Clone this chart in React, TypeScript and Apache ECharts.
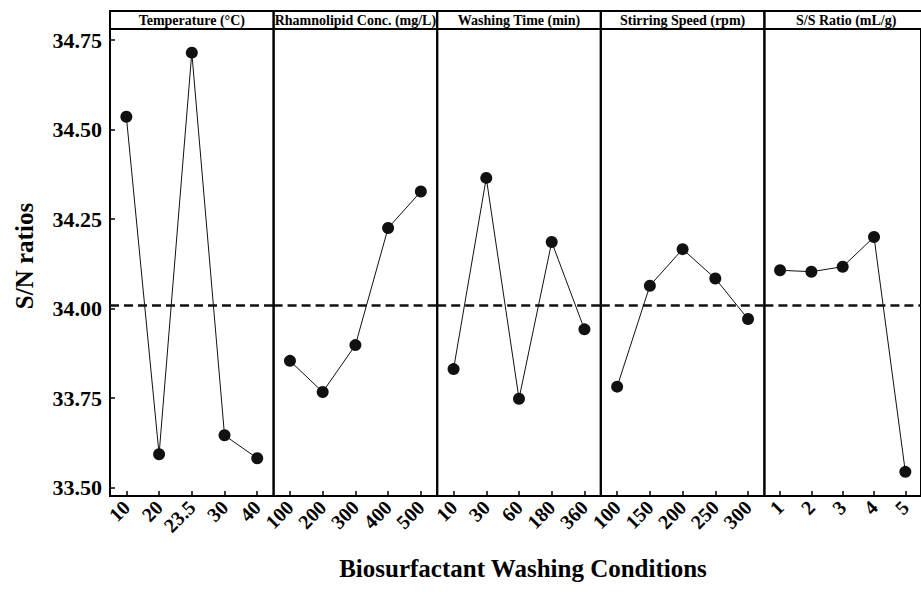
import React, { useEffect, useRef } from "react";
import * as echarts from "echarts";

const PANEL_TITLES = [
  "Temperature (°C)",
  "Rhamnolipid Conc. (mg/L)",
  "Washing Time (min)",
  "Stirring Speed (rpm)",
  "S/S Ratio (mL/g)",
];
const TEMP_LEVELS = ["10", "20", "23.5", "30", "40"];
const TEMP_SN = [34.536, 33.593, 34.715, 33.646, 33.582];
const CONC_LEVELS = ["100", "200", "300", "400", "500"];
const CONC_SN = [33.854, 33.767, 33.898, 34.225, 34.327];
const TIME_LEVELS = ["10", "30", "60", "180", "360"];
const TIME_SN = [33.831, 34.365, 33.748, 34.186, 33.942];
const SPEED_LEVELS = ["100", "150", "200", "250", "300"];
const SPEED_SN = [33.782, 34.064, 34.166, 34.084, 33.971];
const RATIO_LEVELS = ["1", "2", "3", "4", "5"];
const RATIO_SN = [34.107, 34.103, 34.117, 34.2, 33.544];
const Y_TICKS = [33.5, 33.75, 34.0, 34.25, 34.5, 34.75];
const Y_MIN = 33.4765;
const Y_MAX = 34.781;
const MEAN_SN = 34.01;
const Y_TITLE = "S/N ratios";
const X_TITLE = "Biosurfactant Washing Conditions";

const FONT = "Liberation Serif";

export default function App() {
  const ref = useRef<HTMLDivElement>(null);
  useEffect(() => {
    if (!ref.current) return;
    const chart = echarts.init(ref.current, null, { renderer: "svg" });
    const levels = [TEMP_LEVELS, CONC_LEVELS, TIME_LEVELS, SPEED_LEVELS, RATIO_LEVELS];
    const values = [TEMP_SN, CONC_SN, TIME_SN, SPEED_SN, RATIO_SN];
    const left0 = 110;
    const pw = 163.6;
    const top = 29;
    const bottom = 496;

    const grids = levels.map((_, i) => ({
      left: left0 + i * pw,
      top,
      width: pw,
      height: bottom - top,
      show: true,
      borderColor: "#000",
      borderWidth: 2,
      backgroundColor: "transparent",
    }));

    const xAxes = levels.map((lv, i) => ({
      type: "category",
      gridIndex: i,
      data: lv,
      boundaryGap: true,
      axisLine: { show: true, lineStyle: { color: "#000", width: 2 } },
      axisTick: {
        show: true,
        inside: true,
        alignWithLabel: true,
        length: 5,
        lineStyle: { color: "#000", width: 1.5 },
      },
      axisLabel: {
        interval: 0,
        rotate: 45,
        margin: 8,
        color: "#000",
        fontFamily: FONT,
        fontWeight: "bold",
        fontSize: 20,
      },
      splitLine: { show: false },
    }));

    const yAxes = levels.map((_, i) => ({
      type: "value",
      gridIndex: i,
      min: Y_MIN,
      max: Y_MAX,
      axisLine: { show: i === 0, lineStyle: { color: "#000", width: 2 } },
      axisTick: {
        show: i === 0,
        inside: true,
        length: 5,
        customValues: Y_TICKS,
        lineStyle: { color: "#000", width: 1.5 },
      },
      axisLabel: {
        show: i === 0,
        customValues: Y_TICKS,
        margin: 8,
        color: "#000",
        fontFamily: FONT,
        fontWeight: "bold",
        fontSize: 22,
        formatter: (v: number) => v.toFixed(2),
      },
      splitLine: { show: false },
    }));

    const series = values.map((vals, i) => ({
      type: "line",
      xAxisIndex: i,
      yAxisIndex: i,
      data: vals,
      symbol: "circle",
      symbolSize: 12,
      itemStyle: { color: "#111" },
      lineStyle: { color: "#111", width: 1 },
      markLine: {
        silent: true,
        symbol: ["none", "none"],
        label: { show: false },
        lineStyle: { color: "#111", type: [9, 5], width: 2.5 },
        data: [{ yAxis: MEAN_SN }],
      },
      z: 3,
    }));

    const graphics: any[] = [];
    PANEL_TITLES.forEach((t, i) => {
      graphics.push({
        type: "rect",
        shape: { x: left0 + i * pw, y: 11, width: pw, height: top - 11 },
        style: { fill: "none", stroke: "#000", lineWidth: 2 },
      });
      graphics.push({
        type: "text",
        x: left0 + i * pw + pw / 2,
        y: 20,
        style: {
          text: t,
          fill: "#000",
          fontFamily: FONT,
          fontWeight: "bold",
          fontSize: 14,
          align: "center",
          verticalAlign: "middle",
        },
      });
    });
    graphics.push({
      type: "text",
      x: 24,
      y: 256,
      rotation: Math.PI / 2,
      style: {
        text: Y_TITLE,
        fill: "#000",
        fontFamily: FONT,
        fontWeight: "bold",
        fontSize: 25,
        align: "center",
        verticalAlign: "middle",
      },
    });
    graphics.push({
      type: "text",
      x: 523,
      y: 568,
      style: {
        text: X_TITLE,
        fill: "#000",
        fontFamily: FONT,
        fontWeight: "bold",
        fontSize: 25,
        align: "center",
        verticalAlign: "middle",
      },
    });

    chart.setOption({
      animation: false,
      backgroundColor: "#fff",
      grid: grids,
      xAxis: xAxes,
      yAxis: yAxes,
      series,
      graphic: graphics,
    });
    return () => chart.dispose();
  }, []);
  return (
    <div
      ref={ref}
      style={{ position: "absolute", left: 0, top: 0, width: 921, height: 592 }}
    />
  );
}
